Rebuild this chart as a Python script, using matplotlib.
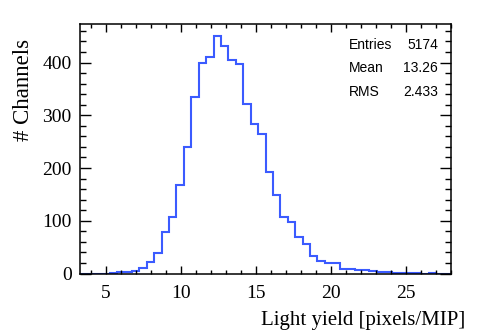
import numpy as np
import matplotlib
matplotlib.use("Agg")
import matplotlib.pyplot as plt
from matplotlib.ticker import MultipleLocator

# Data (50 bins)
x_lo, x_hi, n_bins = 3.3, 28.0, 50
counts = [0, 0, 0, 0, 1, 2, 3, 5, 11, 22,
          39, 79, 107, 168, 240, 334, 400, 410, 451, 432,
          405, 398, 322, 284, 264, 193, 149, 108, 98, 69,
          55, 34, 23, 20, 20, 8, 8, 6, 6, 4,
          2, 2, 1, 1, 1, 1, 0, 1, 0, 0]
x_ticks = [5, 10, 15, 20, 25]
y_ticks = [0, 100, 200, 300, 400]
stat_names = ["Entries", "Mean", "RMS"]
stat_values = ["5174", "13.26", "2.433"]

W, H = 491, 332
fig = plt.figure(figsize=(W / 100, H / 100), dpi=100)
ax = fig.add_axes([80 / W, 1 - 273.5 / H, (451 - 80) / W, (273.5 - 24) / H])

edges = np.linspace(x_lo, x_hi, n_bins + 1)
ax.stairs(counts, edges, color="#3b5bff", linewidth=1.5)

ax.set_xlim(x_lo, x_hi)
ax.set_ylim(0, 473)
ax.set_xticks(x_ticks)
ax.set_yticks(y_ticks)
ax.xaxis.set_minor_locator(MultipleLocator(1))
ax.yaxis.set_minor_locator(MultipleLocator(20))

serif = "Liberation Serif"
ax.tick_params(axis="both", which="both", direction="in", top=True, right=True)
ax.tick_params(axis="y", which="major", length=8, width=1.0, labelsize=14, pad=6)
ax.tick_params(axis="y", which="minor", length=4.5, width=1.0)
ax.tick_params(axis="x", which="major", length=5.5, width=1.0, labelsize=14, pad=8)
ax.tick_params(axis="x", which="minor", length=3, width=1.0)
for lab in ax.get_xticklabels() + ax.get_yticklabels():
    lab.set_fontfamily(serif)
for sp in ax.spines.values():
    sp.set_linewidth(1.1)

fig.text(24 / W, 1 - 90 / H, "# Channels", rotation=90, ha="center", va="center",
         fontsize=16.5, fontfamily=serif)
fig.text(465 / W, 1 - 321 / H, "Light yield [pixels/MIP]", ha="right", va="center",
         fontsize=15, fontfamily=serif)

rows_y = [45, 68.5, 92]
for name, val, yy in zip(stat_names, stat_values, rows_y):
    fig.text(349 / W, 1 - yy / H, name, ha="left", va="center", fontsize=10,
             fontfamily="Liberation Sans")
    fig.text(438 / W, 1 - yy / H, val, ha="right", va="center", fontsize=10,
             fontfamily="Liberation Sans")

fig.savefig("out.png", dpi=100)
